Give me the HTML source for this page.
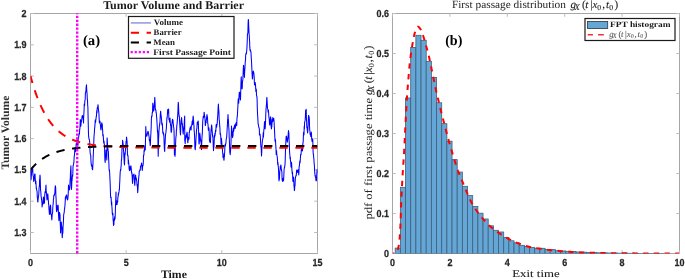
<!DOCTYPE html>
<html><head><meta charset="utf-8"><style>html,body{margin:0;padding:0;background:#fff;width:685px;height:279px;overflow:hidden}svg{display:block;will-change:transform}</style></head>
<body><svg width="685" height="279" viewBox="0 0 685 279" text-rendering="geometricPrecision">
<rect width="685" height="279" fill="#fff"/>
<defs><clipPath id="cl"><rect x="30.5" y="13.5" width="287.0" height="240.0"/></clipPath><clipPath id="cr"><rect x="392.5" y="13.5" width="287.0" height="240.0"/></clipPath></defs>
<rect x="30.5" y="13.5" width="287.0" height="240.0" fill="none" stroke="#a6a6a6" stroke-width="1"/>
<path d="M30.50,253.5 v-3.3 M30.50,13.5 v3.3 M126.17,253.5 v-3.3 M126.17,13.5 v3.3 M221.83,253.5 v-3.3 M221.83,13.5 v3.3 M317.50,253.5 v-3.3 M317.50,13.5 v3.3 M30.5,232.50 h3.3 M317.5,232.50 h-3.3 M30.5,201.21 h3.3 M317.5,201.21 h-3.3 M30.5,169.93 h3.3 M317.5,169.93 h-3.3 M30.5,138.64 h3.3 M317.5,138.64 h-3.3 M30.5,107.36 h3.3 M317.5,107.36 h-3.3 M30.5,76.07 h3.3 M317.5,76.07 h-3.3 M30.5,44.79 h3.3 M317.5,44.79 h-3.3 M30.5,13.50 h3.3 M317.5,13.50 h-3.3" stroke="#bcbcbc" stroke-width="1" fill="none"/>
<g clip-path="url(#cl)">
<path d="M30.50,170.00 L30.75,174.64 L31.00,180.00 L31.19,178.41 L31.38,175.35 L31.56,173.33 L31.75,170.02 L31.94,169.24 L32.12,171.53 L32.31,169.42 L32.50,167.00 L32.70,170.38 L32.90,173.44 L33.10,175.90 L33.30,175.87 L33.50,178.00 L33.69,181.46 L33.88,180.03 L34.06,180.72 L34.25,177.95 L34.44,176.65 L34.62,174.02 L34.81,175.25 L35.00,174.00 L35.19,177.68 L35.38,181.10 L35.56,183.68 L35.75,180.67 L35.94,182.42 L36.12,185.33 L36.31,188.64 L36.50,188.00 L36.70,189.92 L36.90,190.64 L37.10,191.77 L37.30,197.38 L37.50,198.51 L37.70,201.50 L37.92,202.05 L38.13,199.08 L38.35,197.24 L38.57,195.93 L38.78,194.51 L39.00,190.00 L39.20,186.77 L39.40,186.61 L39.60,179.48 L39.80,178.13 L40.00,175.00 L40.20,176.98 L40.40,185.30 L40.60,190.66 L40.80,191.30 L41.00,195.00 L41.18,197.14 L41.37,197.44 L41.55,199.84 L41.73,200.43 L41.92,202.79 L42.10,207.00 L42.30,204.90 L42.50,204.91 L42.70,203.32 L42.90,203.15 L43.10,199.82 L43.30,197.95 L43.50,197.00 L43.70,200.08 L43.90,203.76 L44.10,201.50 L44.30,200.52 L44.50,203.00 L44.69,196.43 L44.88,193.54 L45.06,191.52 L45.25,192.75 L45.44,192.62 L45.62,190.05 L45.81,187.38 L46.00,185.00 L46.20,191.17 L46.40,192.65 L46.60,194.43 L46.80,197.78 L47.00,200.00 L47.20,199.01 L47.40,195.83 L47.60,195.29 L47.80,193.71 L48.00,196.00 L48.20,199.31 L48.40,200.99 L48.60,204.34 L48.80,205.26 L49.00,209.53 L49.20,211.26 L49.40,214.40 L49.58,212.08 L49.77,213.70 L49.95,210.43 L50.13,206.33 L50.32,206.38 L50.50,205.00 L50.72,207.23 L50.93,214.46 L51.15,214.30 L51.37,214.65 L51.58,216.98 L51.80,220.00 L52.00,217.19 L52.20,214.30 L52.40,213.60 L52.60,212.45 L52.80,207.58 L53.00,205.00 L53.20,203.60 L53.40,199.58 L53.60,198.72 L53.80,195.18 L54.00,196.02 L54.20,195.00 L54.42,195.15 L54.63,193.67 L54.85,193.33 L55.07,188.47 L55.28,185.69 L55.50,186.50 L55.70,187.79 L55.90,196.22 L56.10,198.42 L56.30,206.63 L56.50,211.00 L56.69,211.65 L56.88,210.75 L57.06,205.84 L57.25,207.62 L57.44,209.86 L57.62,208.48 L57.81,206.60 L58.00,205.00 L58.23,206.89 L58.45,213.76 L58.67,216.69 L58.90,220.80 L59.08,218.18 L59.27,215.96 L59.45,212.18 L59.63,214.48 L59.82,213.40 L60.00,215.00 L60.20,221.80 L60.40,226.91 L60.60,232.90 L60.83,228.66 L61.07,225.79 L61.30,222.00 L61.50,225.14 L61.70,225.69 L61.90,227.62 L62.10,235.45 L62.30,237.70 L62.48,233.10 L62.66,231.83 L62.84,233.14 L63.02,227.57 L63.20,225.00 L63.43,221.14 L63.67,214.58 L63.90,214.00 L64.08,212.82 L64.27,211.86 L64.45,208.93 L64.63,208.89 L64.82,206.47 L65.00,205.00 L65.22,201.17 L65.43,197.08 L65.65,199.11 L65.87,196.72 L66.08,196.25 L66.30,195.00 L66.50,195.07 L66.70,194.99 L66.90,197.63 L67.10,198.04 L67.30,198.81 L67.50,200.00 L67.70,199.68 L67.90,198.17 L68.10,195.95 L68.30,191.46 L68.50,185.00 L68.70,186.79 L68.90,188.62 L69.10,187.80 L69.30,188.61 L69.50,190.00 L69.70,187.52 L69.90,185.26 L70.10,179.69 L70.30,178.86 L70.50,171.39 L70.70,168.99 L70.90,165.70 L71.10,175.34 L71.30,187.40 L71.50,189.52 L71.70,185.33 L71.90,179.83 L72.10,180.35 L72.30,176.47 L72.50,175.00 L72.69,176.24 L72.88,171.53 L73.06,165.69 L73.25,165.54 L73.44,164.88 L73.62,163.52 L73.81,162.84 L74.00,160.00 L74.20,156.19 L74.40,155.61 L74.60,153.09 L74.80,148.97 L75.00,150.00 L75.20,150.36 L75.40,151.84 L75.60,149.97 L75.80,148.89 L76.00,147.00 L76.20,143.85 L76.40,143.29 L76.60,140.38 L76.80,140.21 L77.00,140.00 L77.20,145.18 L77.40,142.16 L77.60,144.61 L77.80,144.71 L78.00,145.00 L78.19,140.12 L78.38,137.61 L78.56,137.99 L78.75,136.39 L78.94,135.18 L79.12,133.09 L79.31,134.45 L79.50,133.00 L79.69,129.25 L79.88,129.12 L80.06,125.92 L80.25,119.65 L80.44,119.91 L80.62,124.64 L80.81,126.28 L81.00,125.00 L81.20,121.03 L81.40,122.04 L81.60,120.71 L81.80,119.11 L82.00,117.28 L82.20,115.66 L82.40,115.88 L82.60,115.50 L82.78,117.47 L82.96,116.43 L83.14,119.11 L83.32,118.92 L83.50,123.00 L83.69,116.85 L83.88,113.42 L84.06,110.30 L84.25,104.02 L84.44,105.06 L84.62,105.46 L84.81,101.25 L85.00,100.00 L85.19,100.05 L85.38,92.93 L85.56,92.68 L85.75,91.67 L85.94,91.02 L86.12,87.58 L86.31,86.08 L86.50,84.80 L86.70,89.50 L86.90,92.14 L87.10,93.97 L87.30,99.49 L87.50,100.00 L87.70,105.37 L87.90,107.31 L88.10,117.38 L88.30,126.00 L88.50,134.50 L88.70,136.95 L88.90,138.05 L89.10,139.41 L89.30,139.65 L89.50,140.00 L89.70,142.42 L89.90,148.33 L90.10,151.96 L90.30,154.10 L90.50,155.00 L90.72,155.11 L90.93,160.59 L91.15,163.43 L91.37,165.23 L91.58,166.03 L91.80,165.00 L92.00,165.90 L92.20,169.06 L92.40,169.18 L92.60,169.70 L92.78,166.57 L92.96,164.24 L93.14,157.81 L93.32,154.65 L93.50,150.00 L93.67,146.92 L93.85,139.87 L94.03,136.05 L94.20,134.50 L94.40,131.79 L94.60,128.38 L94.80,126.88 L95.00,124.91 L95.20,120.56 L95.40,119.71 L95.60,122.58 L95.80,120.00 L96.00,119.15 L96.20,116.27 L96.40,116.67 L96.60,113.32 L96.80,110.29 L97.00,113.00 L97.20,107.96 L97.40,107.68 L97.60,108.47 L97.80,106.23 L98.00,104.68 L98.20,106.50 L98.40,109.41 L98.60,111.38 L98.80,111.51 L99.00,115.00 L99.20,119.67 L99.40,123.08 L99.60,121.94 L99.80,121.00 L100.00,121.37 L100.20,123.66 L100.40,124.74 L100.60,126.84 L100.80,129.14 L101.00,130.00 L101.22,127.72 L101.43,126.03 L101.65,123.64 L101.87,122.66 L102.08,124.97 L102.30,124.20 L102.47,129.20 L102.65,130.01 L102.83,135.81 L103.00,136.00 L103.20,134.44 L103.40,138.31 L103.60,141.82 L103.80,143.28 L104.00,141.00 L104.20,143.16 L104.40,144.59 L104.60,149.17 L104.80,157.64 L105.00,161.22 L105.20,162.40 L105.40,158.02 L105.60,156.32 L105.80,154.33 L106.00,150.00 L106.20,152.10 L106.40,151.15 L106.60,155.63 L106.80,160.00 L107.10,137.90 L107.28,139.58 L107.46,143.62 L107.64,146.12 L107.82,148.00 L108.00,150.00 L108.17,150.66 L108.35,150.98 L108.53,156.67 L108.70,160.00 L108.92,164.15 L109.13,170.18 L109.35,169.64 L109.57,171.39 L109.78,175.43 L110.00,180.00 L110.25,185.81 L110.50,195.00 L110.70,197.82 L110.90,197.23 L111.10,197.32 L111.30,201.57 L111.50,205.00 L111.70,201.82 L111.90,206.44 L112.10,209.26 L112.30,213.87 L112.50,214.33 L112.70,215.00 L112.90,213.21 L113.10,220.22 L113.30,220.71 L113.50,225.44 L113.70,224.80 L113.89,224.63 L114.08,220.06 L114.26,218.58 L114.45,220.38 L114.64,216.81 L114.83,218.82 L115.01,219.07 L115.20,216.00 L115.40,209.72 L115.60,203.55 L115.80,198.36 L116.00,192.00 L116.10,204.70 L116.30,204.76 L116.50,203.08 L116.70,200.78 L116.90,201.45 L117.10,204.36 L117.30,201.47 L117.50,202.27 L117.70,201.50 L117.90,197.02 L118.10,196.93 L118.30,193.54 L118.50,195.00 L118.68,192.51 L118.86,192.81 L119.04,191.64 L119.22,189.21 L119.40,190.00 L119.60,184.64 L119.80,181.10 L120.00,176.00 L120.20,172.05 L120.40,170.47 L120.60,169.25 L120.80,170.21 L121.00,166.69 L121.20,165.25 L121.40,159.78 L121.60,160.00 L121.80,155.08 L122.00,148.42 L122.20,145.95 L122.40,146.28 L122.60,140.30 L122.78,141.26 L122.96,143.04 L123.14,143.89 L123.32,148.37 L123.50,150.00 L123.70,151.96 L123.90,157.04 L124.10,158.92 L124.30,163.64 L124.50,165.00 L124.70,159.70 L124.90,152.90 L125.10,154.97 L125.30,151.81 L125.50,150.00 L125.70,146.82 L125.90,144.10 L126.10,141.12 L126.30,142.60 L126.50,137.00 L126.70,137.98 L126.90,140.28 L127.10,141.80 L127.30,148.31 L127.50,155.00 L127.70,155.68 L127.90,155.33 L128.10,157.46 L128.30,163.78 L128.50,160.00 L128.70,163.83 L128.90,163.82 L129.10,168.88 L129.30,168.86 L129.50,170.75 L129.70,169.70 L129.90,166.43 L130.10,168.84 L130.30,169.89 L130.50,168.00 L130.69,168.10 L130.88,165.75 L131.07,167.00 L131.26,169.12 L131.45,171.11 L131.64,173.08 L131.83,172.58 L132.02,174.61 L132.21,176.71 L132.40,182.00 L132.60,183.38 L132.80,179.94 L133.00,175.00 L133.20,175.85 L133.40,175.40 L133.60,174.63 L133.80,175.50 L134.00,174.00 L134.20,177.99 L134.40,180.27 L134.60,183.41 L134.80,185.50 L135.03,181.78 L135.27,177.54 L135.50,175.00 L135.70,175.46 L135.90,177.79 L136.10,179.56 L136.30,178.06 L136.50,180.00 L136.70,180.53 L136.90,182.80 L137.10,185.84 L137.30,184.62 L137.50,188.59 L137.70,192.70 L137.90,190.31 L138.10,187.27 L138.30,184.36 L138.50,180.00 L138.68,178.37 L138.86,176.06 L139.04,175.29 L139.22,171.42 L139.40,171.00 L139.62,171.09 L139.84,170.49 L140.06,169.18 L140.28,170.25 L140.50,166.00 L140.70,166.16 L140.90,165.80 L141.10,165.54 L141.30,165.51 L141.50,163.00 L141.70,163.62 L141.90,166.39 L142.10,168.66 L142.30,170.39 L142.50,168.00 L142.70,166.16 L142.90,165.83 L143.10,165.12 L143.30,162.54 L143.50,155.67 L143.70,154.80 L143.90,155.29 L144.10,150.06 L144.30,151.82 L144.50,149.08 L144.70,146.82 L144.90,146.14 L145.10,150.04 L145.30,150.00 L145.55,136.53 L145.80,126.60 L146.02,132.64 L146.24,134.62 L146.46,136.25 L146.68,135.45 L146.90,136.00 L147.10,135.09 L147.30,134.11 L147.50,132.44 L147.70,132.90 L147.95,131.34 L148.20,131.50 L148.40,132.71 L148.60,133.57 L148.80,135.59 L149.00,136.00 L149.20,137.72 L149.40,141.04 L149.60,141.10 L149.80,139.62 L150.00,143.47 L150.20,145.80 L150.40,144.27 L150.60,137.93 L150.80,134.79 L151.00,131.09 L151.20,126.75 L151.40,119.07 L151.60,116.00 L151.79,116.80 L151.97,116.36 L152.16,113.56 L152.34,112.17 L152.53,112.63 L152.71,104.65 L152.90,103.00 L153.15,106.33 L153.40,110.00 L153.60,111.03 L153.80,110.70 L154.00,108.39 L154.20,106.06 L154.40,104.90 L154.60,100.55 L154.80,97.40 L155.03,101.61 L155.27,108.35 L155.50,110.00 L155.70,109.68 L155.90,109.95 L156.10,112.96 L156.30,112.68 L156.50,116.00 L156.70,117.49 L156.90,120.86 L157.10,124.20 L157.30,127.93 L157.50,132.28 L157.70,130.50 L157.95,141.90 L158.20,156.30 L158.40,148.53 L158.60,138.69 L158.80,135.00 L159.00,130.00 L159.19,128.92 L159.38,125.51 L159.56,125.72 L159.75,122.88 L159.94,123.24 L160.12,118.79 L160.31,114.47 L160.50,112.70 L160.65,111.15 L160.80,112.90 L161.00,115.80 L161.20,115.87 L161.40,118.32 L161.60,119.76 L161.80,124.24 L162.00,125.00 L162.21,123.02 L162.43,125.01 L162.64,129.46 L162.85,133.33 L163.06,132.56 L163.27,132.16 L163.49,134.92 L163.70,133.70 L163.90,136.30 L164.10,141.53 L164.30,147.55 L164.50,150.51 L164.70,151.50 L164.90,144.93 L165.10,143.40 L165.30,138.46 L165.50,135.00 L165.70,133.47 L165.90,132.91 L166.10,130.07 L166.30,129.22 L166.50,125.05 L166.70,122.14 L166.90,117.64 L167.10,118.31 L167.30,116.20 L167.50,112.39 L167.70,109.50 L167.89,110.14 L168.07,112.99 L168.26,110.34 L168.44,109.02 L168.63,109.28 L168.81,116.53 L169.00,120.00 L169.20,118.34 L169.40,118.67 L169.60,122.22 L169.80,120.27 L170.00,118.00 L170.20,121.59 L170.40,123.45 L170.60,125.74 L170.80,125.20 L171.00,130.50 L171.20,132.44 L171.40,131.64 L171.60,131.12 L171.80,124.10 L172.00,123.47 L172.20,120.84 L172.40,119.72 L172.60,119.20 L172.80,121.19 L173.00,119.93 L173.20,123.62 L173.40,124.65 L173.60,126.66 L173.80,128.01 L174.00,130.00 L174.20,138.12 L174.40,154.70 L174.60,153.18 L174.80,153.71 L175.00,156.34 L175.20,154.26 L175.40,147.80 L175.60,143.53 L175.80,138.50 L176.00,136.36 L176.20,135.62 L176.40,129.89 L176.60,129.78 L176.80,125.22 L177.00,125.00 L177.19,122.65 L177.38,119.82 L177.56,117.56 L177.75,114.18 L177.94,110.63 L178.12,104.51 L178.31,102.35 L178.50,104.70 L178.70,110.22 L178.90,114.16 L179.10,116.62 L179.30,115.77 L179.50,120.00 L179.70,123.23 L179.90,126.43 L180.10,129.09 L180.30,132.68 L180.50,135.00 L180.70,131.00 L180.90,124.59 L181.10,119.90 L181.30,121.57 L181.50,117.60 L181.69,118.53 L181.88,121.31 L182.06,124.51 L182.25,123.34 L182.44,124.35 L182.62,128.05 L182.81,130.20 L183.00,132.00 L183.21,134.10 L183.43,130.84 L183.64,129.40 L183.85,126.52 L184.06,128.46 L184.27,122.15 L184.49,118.90 L184.70,116.00 L184.80,141.00 L185.00,141.37 L185.20,143.63 L185.40,138.76 L185.60,139.48 L185.80,137.69 L186.00,135.00 L186.19,137.83 L186.38,137.16 L186.56,133.71 L186.75,134.36 L186.94,132.31 L187.12,132.28 L187.31,134.71 L187.50,137.00 L187.69,142.03 L187.88,142.78 L188.06,140.32 L188.25,139.73 L188.44,138.75 L188.62,137.05 L188.81,139.32 L189.00,139.00 L189.19,132.59 L189.38,132.59 L189.56,130.66 L189.75,129.84 L189.94,128.43 L190.12,128.28 L190.31,126.70 L190.50,128.00 L190.71,128.70 L190.92,129.32 L191.12,129.99 L191.33,126.17 L191.54,125.45 L191.75,124.51 L191.95,124.69 L192.16,121.11 L192.37,124.71 L192.58,124.64 L192.78,121.42 L192.99,116.99 L193.20,116.00 L193.39,119.04 L193.57,120.56 L193.76,124.04 L193.94,125.75 L194.13,130.33 L194.31,131.84 L194.50,135.00 L194.70,139.80 L194.90,148.43 L195.10,148.46 L195.30,149.80 L195.50,145.56 L195.70,145.22 L195.90,140.25 L196.10,136.86 L196.30,134.57 L196.50,130.00 L196.69,128.75 L196.88,128.66 L197.07,124.67 L197.26,122.24 L197.45,122.30 L197.64,123.71 L197.83,124.31 L198.02,121.10 L198.21,121.04 L198.40,124.00 L198.60,132.33 L198.80,139.13 L199.00,144.00 L199.20,143.94 L199.40,140.98 L199.60,136.60 L199.80,133.10 L200.00,135.00 L200.19,136.08 L200.38,139.41 L200.56,138.81 L200.75,141.61 L200.94,140.72 L201.12,140.89 L201.31,147.41 L201.50,149.80 L201.70,144.02 L201.90,139.23 L202.10,135.43 L202.30,133.76 L202.50,128.00 L202.70,122.03 L202.90,119.58 L203.10,117.83 L203.30,116.31 L203.50,117.68 L203.70,116.65 L203.90,116.82 L204.10,112.39 L204.30,112.69 L204.50,115.93 L204.70,116.00 L204.90,118.05 L205.10,119.86 L205.30,125.59 L205.50,124.80 L205.70,122.94 L205.90,122.45 L206.10,122.64 L206.30,120.00 L206.53,118.78 L206.77,116.16 L207.00,114.50 L207.19,116.73 L207.38,116.54 L207.56,119.03 L207.75,123.68 L207.94,123.91 L208.12,125.88 L208.31,130.02 L208.50,130.00 L208.70,130.42 L208.90,127.85 L209.10,130.55 L209.30,136.08 L209.50,140.91 L209.70,140.36 L209.90,142.11 L210.10,142.38 L210.30,142.60 L210.50,142.25 L210.70,135.02 L210.90,133.48 L211.10,129.30 L211.30,128.62 L211.50,125.00 L211.70,124.97 L211.90,127.22 L212.10,130.57 L212.30,132.24 L212.50,135.00 L212.70,137.30 L212.90,135.74 L213.10,141.45 L213.30,146.69 L213.50,150.60 L213.70,147.76 L213.90,147.25 L214.10,143.15 L214.30,138.45 L214.50,135.00 L214.70,137.21 L214.90,133.24 L215.10,135.46 L215.30,133.28 L215.50,130.00 L215.69,131.92 L215.88,130.58 L216.06,126.35 L216.25,124.38 L216.44,125.51 L216.62,127.26 L216.81,125.13 L217.00,125.00 L217.20,123.91 L217.40,119.56 L217.60,117.60 L217.80,114.72 L218.00,110.63 L218.20,106.64 L218.40,104.00 L218.60,107.98 L218.80,110.53 L219.00,113.42 L219.20,120.00 L219.39,120.89 L219.57,123.40 L219.76,126.66 L219.94,128.45 L220.13,134.28 L220.31,132.68 L220.50,135.00 L220.69,134.73 L220.88,139.69 L221.06,144.27 L221.25,140.07 L221.44,138.25 L221.62,140.34 L221.81,142.73 L222.00,145.00 L222.20,146.35 L222.40,148.95 L222.60,152.04 L222.80,153.37 L223.00,157.35 L223.20,153.44 L223.40,156.48 L223.60,155.52 L223.80,159.33 L224.00,160.30 L224.19,157.10 L224.38,156.94 L224.56,153.69 L224.75,150.43 L224.94,145.61 L225.12,144.48 L225.31,144.61 L225.50,146.00 L225.69,143.35 L225.88,143.55 L226.06,141.28 L226.25,138.74 L226.44,137.80 L226.62,138.03 L226.81,134.90 L227.00,132.00 L227.20,128.28 L227.40,125.15 L227.60,119.66 L227.80,118.79 L228.00,114.50 L228.20,118.73 L228.40,119.86 L228.60,123.84 L228.80,127.89 L229.00,130.00 L229.20,137.33 L229.40,140.71 L229.60,147.46 L229.80,152.24 L230.00,153.13 L230.20,154.70 L230.39,153.02 L230.57,150.43 L230.76,147.82 L230.94,144.40 L231.13,137.33 L231.31,134.05 L231.50,126.00 L231.69,129.72 L231.88,130.81 L232.06,131.92 L232.25,134.22 L232.44,137.71 L232.62,137.10 L232.81,135.73 L233.00,136.00 L233.19,130.81 L233.38,128.21 L233.56,131.74 L233.75,128.92 L233.94,130.20 L234.12,126.62 L234.31,127.05 L234.50,126.00 L234.70,124.86 L234.90,125.22 L235.10,128.44 L235.30,127.91 L235.50,127.21 L235.70,123.87 L235.90,124.27 L236.10,122.68 L236.30,123.68 L236.50,122.58 L236.70,125.76 L236.90,120.00 L237.10,116.98 L237.30,116.79 L237.50,113.64 L237.70,109.43 L237.90,106.49 L238.10,100.87 L238.30,98.85 L238.50,102.40 L238.70,103.32 L238.90,98.83 L239.10,94.91 L239.30,92.12 L239.50,92.70 L239.65,92.54 L239.80,92.70 L240.03,96.16 L240.27,99.56 L240.50,100.00 L240.70,93.01 L240.90,84.98 L241.10,79.00 L241.28,76.85 L241.45,81.85 L241.62,83.54 L241.80,87.90 L242.01,88.93 L242.23,88.28 L242.44,82.06 L242.65,80.69 L242.86,80.01 L243.07,74.77 L243.29,69.02 L243.50,65.30 L243.68,65.75 L243.86,73.58 L244.04,72.11 L244.22,73.75 L244.40,77.40 L244.62,72.83 L244.84,69.21 L245.06,65.83 L245.28,61.30 L245.50,60.00 L245.69,54.83 L245.87,54.79 L246.06,53.03 L246.24,53.31 L246.43,53.80 L246.61,51.58 L246.80,50.00 L247.01,46.30 L247.23,41.54 L247.44,34.31 L247.65,33.61 L247.86,33.56 L248.07,24.45 L248.29,19.58 L248.50,20.00 L248.69,25.68 L248.88,30.01 L249.06,33.31 L249.25,35.81 L249.44,39.09 L249.62,41.57 L249.81,47.16 L250.00,50.00 L250.20,50.81 L250.40,49.79 L250.60,51.54 L250.80,51.27 L251.00,52.70 L251.20,57.07 L251.40,59.82 L251.60,62.90 L251.80,67.79 L252.00,71.97 L252.20,75.70 L252.40,79.00 L252.60,78.19 L252.80,72.96 L253.00,73.55 L253.20,71.00 L253.40,71.26 L253.60,72.13 L253.80,72.56 L254.00,75.00 L254.20,76.89 L254.40,83.24 L254.60,84.98 L254.80,83.14 L255.00,85.00 L255.25,82.49 L255.50,84.70 L255.70,88.64 L255.90,91.59 L256.10,89.77 L256.30,89.34 L256.50,95.00 L256.70,96.06 L256.90,96.37 L257.10,99.20 L257.30,107.90 L257.50,113.48 L257.70,116.29 L257.90,119.62 L258.10,123.57 L258.30,124.57 L258.50,124.50 L258.70,127.10 L258.90,127.30 L259.10,127.82 L259.30,128.72 L259.50,135.00 L259.70,133.79 L259.90,134.33 L260.10,134.77 L260.30,136.65 L260.50,140.00 L260.70,143.63 L260.90,146.46 L261.10,147.33 L261.30,149.91 L261.50,156.00 L261.70,153.30 L261.90,148.05 L262.10,144.34 L262.30,141.60 L262.50,140.00 L262.70,139.01 L262.90,138.85 L263.10,134.92 L263.30,132.60 L263.50,136.91 L263.70,132.10 L263.90,129.44 L264.10,128.13 L264.30,125.38 L264.50,121.60 L264.70,124.02 L264.90,126.57 L265.10,128.94 L265.30,127.00 L265.50,122.75 L265.70,116.81 L265.90,111.60 L266.10,108.25 L266.30,105.90 L266.50,104.16 L266.70,99.07 L266.90,97.40 L267.10,101.00 L267.30,104.52 L267.50,108.64 L267.70,109.07 L267.90,109.44 L268.10,112.21 L268.30,109.71 L268.50,111.00 L268.70,114.03 L268.90,117.45 L269.10,117.58 L269.30,119.74 L269.50,124.00 L269.68,124.46 L269.87,125.16 L270.05,123.30 L270.23,121.17 L270.42,117.51 L270.60,116.80 L270.80,118.02 L271.00,121.28 L271.20,127.30 L271.40,129.04 L271.60,127.25 L271.80,127.00 L272.00,122.85 L272.20,119.33 L272.40,121.82 L272.60,121.71 L272.80,117.41 L273.00,118.34 L273.20,120.71 L273.40,119.20 L273.58,118.46 L273.77,118.52 L273.95,120.08 L274.13,122.50 L274.32,126.21 L274.50,130.00 L274.70,134.10 L274.90,138.63 L275.10,141.47 L275.30,139.06 L275.50,140.00 L275.73,144.88 L275.97,148.09 L276.20,154.40 L276.39,153.30 L276.57,150.83 L276.76,154.06 L276.94,155.42 L277.13,155.71 L277.31,157.69 L277.50,160.00 L277.69,164.44 L277.88,162.17 L278.06,164.17 L278.25,166.70 L278.44,167.96 L278.62,172.06 L278.81,178.54 L279.00,181.00 L279.19,176.41 L279.38,179.42 L279.56,176.47 L279.75,171.65 L279.94,170.36 L280.12,169.52 L280.31,165.97 L280.50,166.00 L280.70,165.98 L280.90,164.92 L281.10,166.50 L281.30,169.51 L281.50,169.14 L281.70,171.09 L281.90,172.02 L282.10,179.95 L282.30,179.40 L282.50,181.35 L282.70,179.86 L282.90,178.19 L283.10,178.55 L283.30,179.33 L283.50,181.00 L283.69,178.84 L283.88,174.45 L284.06,170.22 L284.25,168.49 L284.44,166.94 L284.62,167.35 L284.81,165.40 L285.00,165.00 L285.25,159.12 L285.50,150.00 L285.70,145.26 L285.90,141.25 L286.10,136.63 L286.30,139.27 L286.50,136.06 L286.70,137.84 L286.90,138.07 L287.10,141.02 L287.30,142.25 L287.50,140.83 L287.70,139.17 L287.90,138.20 L288.10,136.36 L288.30,132.83 L288.50,130.50 L288.70,132.10 L288.90,133.79 L289.10,140.18 L289.30,143.78 L289.50,150.00 L289.70,153.80 L289.90,155.44 L290.10,159.07 L290.30,157.04 L290.50,161.48 L290.70,161.81 L290.90,165.08 L291.10,167.30 L291.30,162.61 L291.50,162.31 L291.70,164.35 L291.90,169.59 L292.10,171.80 L292.30,173.93 L292.50,172.05 L292.70,177.00 L292.91,181.37 L293.12,181.47 L293.34,180.97 L293.55,177.12 L293.76,179.27 L293.97,185.78 L294.19,187.54 L294.40,190.60 L294.60,189.68 L294.80,185.10 L295.00,186.08 L295.20,180.90 L295.40,178.17 L295.60,176.62 L295.80,176.52 L296.00,175.30 L296.20,175.86 L296.40,173.67 L296.60,170.22 L296.80,170.00 L297.00,171.20 L297.20,170.96 L297.40,170.83 L297.60,172.55 L297.80,171.01 L298.00,170.68 L298.20,169.66 L298.40,173.00 L298.60,172.03 L298.80,174.91 L299.00,169.37 L299.20,165.79 L299.40,166.04 L299.60,163.57 L299.80,160.84 L300.00,163.00 L300.20,161.52 L300.40,158.08 L300.60,154.26 L300.80,154.40 L301.01,154.82 L301.23,151.22 L301.44,148.55 L301.65,149.53 L301.86,150.60 L302.07,148.75 L302.29,149.94 L302.50,151.00 L302.69,145.42 L302.88,143.38 L303.06,143.08 L303.25,140.40 L303.44,133.97 L303.62,132.00 L303.81,132.50 L304.00,135.00 L304.20,126.22 L304.40,128.96 L304.60,122.73 L304.80,121.51 L305.00,120.94 L305.20,119.78 L305.40,116.61 L305.60,110.30 L305.80,113.56 L306.00,113.60 L306.20,109.31 L306.40,117.85 L306.60,121.31 L306.80,127.43 L307.00,127.00 L307.20,128.83 L307.40,130.96 L307.60,133.00 L307.80,131.26 L308.00,126.69 L308.20,124.58 L308.40,117.60 L308.59,115.17 L308.77,117.04 L308.96,116.31 L309.14,117.56 L309.33,118.95 L309.51,125.24 L309.70,130.00 L309.90,130.71 L310.10,134.42 L310.30,133.37 L310.50,133.37 L310.70,136.37 L310.90,134.21 L311.10,134.35 L311.30,132.00 L311.50,133.94 L311.70,139.53 L311.90,139.38 L312.10,141.59 L312.30,141.10 L312.50,140.00 L312.70,138.78 L312.90,144.02 L313.10,151.44 L313.30,154.35 L313.50,154.38 L313.70,157.82 L313.90,158.76 L314.10,162.43 L314.30,164.88 L314.50,167.30 L314.70,171.99 L314.90,173.83 L315.10,176.09 L315.30,175.19 L315.50,177.36 L315.70,177.18 L315.90,180.07 L316.10,181.00 L316.30,180.16 L316.50,180.16 L316.70,175.67 L316.90,172.63 L317.10,169.28 L317.30,169.99 L317.50,173.00" fill="none" stroke="#0000ff" stroke-width="1.05" stroke-linejoin="round"/>
<path d="M30.50,76.07 L30.98,77.84 L31.46,79.57 L31.94,81.25 L32.42,82.90 L32.90,84.50 L33.37,86.06 L33.85,87.59 L34.33,89.07 L34.81,90.52 L35.29,91.94 L35.77,93.31 L36.25,94.66 L36.73,95.97 L37.21,97.25 L37.69,98.50 L38.17,99.71 L38.65,100.90 L39.12,102.06 L39.60,103.18 L40.08,104.29 L40.56,105.36 L41.04,106.41 L41.52,107.43 L42.00,108.42 L42.48,109.39 L42.96,110.34 L43.44,111.26 L43.92,112.16 L44.39,113.04 L44.87,113.90 L45.35,114.73 L45.83,115.55 L46.31,116.34 L46.79,117.12 L47.27,117.88 L47.75,118.61 L48.23,119.33 L48.71,120.03 L49.19,120.72 L49.67,121.38 L50.14,122.03 L50.62,122.67 L51.10,123.29 L51.58,123.89 L52.06,124.48 L52.54,125.05 L53.02,125.61 L53.50,126.16 L53.98,126.69 L54.46,127.21 L54.94,127.72 L55.41,128.21 L55.89,128.69 L56.37,129.16 L56.85,129.62 L57.33,130.07 L57.81,130.50 L58.29,130.93 L58.77,131.34 L59.25,131.75 L59.73,132.14 L60.21,132.52 L60.69,132.90 L61.16,133.26 L61.64,133.62 L62.12,133.97 L62.60,134.31 L63.08,134.64 L63.56,134.96 L64.04,135.28 L64.52,135.58 L65.00,135.88 L65.48,136.17 L65.96,136.46 L66.43,136.74 L66.91,137.01 L67.39,137.27 L67.87,137.53 L68.35,137.78 L68.83,138.02 L69.31,138.26 L69.79,138.50 L70.27,138.72 L70.75,138.95 L71.23,139.16 L71.71,139.37 L72.18,139.58 L72.66,139.78 L73.14,139.97 L73.62,140.16 L74.10,140.35 L74.58,140.53 L75.06,140.71 L75.54,140.88 L76.02,141.05 L76.50,141.21 L76.98,141.37 L77.45,141.53 L77.93,141.68 L78.41,141.83 L78.89,141.98 L79.37,142.12 L79.85,142.25 L80.33,142.39 L80.81,142.52 L81.29,142.65 L81.77,142.77 L82.25,142.89 L82.73,143.01 L83.20,143.13 L83.68,143.24 L84.16,143.35 L84.64,143.46 L85.12,143.56 L85.60,143.66 L86.08,143.76 L86.56,143.86 L87.04,143.95 L87.52,144.05 L88.00,144.14 L88.47,144.22 L88.95,144.31 L89.43,144.39 L89.91,144.47 L90.39,144.55 L90.87,144.63 L91.35,144.71 L91.83,144.78 L92.31,144.85 L92.79,144.92 L93.27,144.99 L93.75,145.06 L94.22,145.12 L94.70,145.19 L95.18,145.25 L95.66,145.31 L96.14,145.37 L96.62,145.42 L97.10,145.48 L97.58,145.53 L98.06,145.59 L98.54,145.64 L99.02,145.69 L99.49,145.74 L99.97,145.79 L100.45,145.83 L100.93,145.88 L101.41,145.92 L101.89,145.97 L102.37,146.01 L102.85,146.05 L103.33,146.09 L103.81,146.13 L104.29,146.17 L104.77,146.21 L105.24,146.24 L105.72,146.28 L106.20,146.31 L106.68,146.35 L107.16,146.38 L107.64,146.41 L108.12,146.45 L108.60,146.48 L109.08,146.51 L109.56,146.53 L110.04,146.56 L110.52,146.59 L110.99,146.62 L111.47,146.64 L111.95,146.67 L112.43,146.70 L112.91,146.72 L113.39,146.74 L113.87,146.77 L114.35,146.79 L114.83,146.81 L115.31,146.83 L115.79,146.85 L116.26,146.87 L116.74,146.89 L117.22,146.91 L117.70,146.93 L118.18,146.95 L118.66,146.97 L119.14,146.99 L119.62,147.00 L120.10,147.02 L120.58,147.04 L121.06,147.05 L121.54,147.07 L122.01,147.08 L122.49,147.10 L122.97,147.11 L123.45,147.13 L123.93,147.14 L124.41,147.16 L124.89,147.17 L125.37,147.18 L125.85,147.19 L126.33,147.21 L126.81,147.22 L127.28,147.23 L127.76,147.24 L128.24,147.25 L128.72,147.26 L129.20,147.27 L129.68,147.28 L130.16,147.29 L130.64,147.30 L131.12,147.31 L131.60,147.32 L132.08,147.33 L132.56,147.34 L133.03,147.35 L133.51,147.36 L133.99,147.36 L134.47,147.37 L134.95,147.38 L135.43,147.39 L135.91,147.39 L136.39,147.40 L136.87,147.41 L137.35,147.42 L137.83,147.42 L138.30,147.43 L138.78,147.43 L139.26,147.44 L139.74,147.45 L140.22,147.45 L140.70,147.46 L141.18,147.46 L141.66,147.47 L142.14,147.48 L142.62,147.48 L143.10,147.49 L143.58,147.49 L144.05,147.49 L144.53,147.50 L145.01,147.50 L145.49,147.51 L145.97,147.51 L146.45,147.52 L146.93,147.52 L147.41,147.53 L147.89,147.53 L148.37,147.53 L148.85,147.54 L149.32,147.54 L149.80,147.54 L150.28,147.55 L150.76,147.55 L151.24,147.55 L151.72,147.56 L152.20,147.56 L152.68,147.56 L153.16,147.57 L153.64,147.57 L154.12,147.57 L154.60,147.58 L155.07,147.58 L155.55,147.58 L156.03,147.58 L156.51,147.59 L156.99,147.59 L157.47,147.59 L157.95,147.59 L158.43,147.60 L158.91,147.60 L159.39,147.60 L159.87,147.60 L160.34,147.60 L160.82,147.61 L161.30,147.61 L161.78,147.61 L162.26,147.61 L162.74,147.61 L163.22,147.61 L163.70,147.62 L164.18,147.62 L164.66,147.62 L165.14,147.62 L165.62,147.62 L166.09,147.62 L166.57,147.63 L167.05,147.63 L167.53,147.63 L168.01,147.63 L168.49,147.63 L168.97,147.63 L169.45,147.63 L169.93,147.64 L170.41,147.64 L170.89,147.64 L171.36,147.64 L171.84,147.64 L172.32,147.64 L172.80,147.64 L173.28,147.64 L173.76,147.64 L174.24,147.65 L174.72,147.65 L175.20,147.65 L175.68,147.65 L176.16,147.65 L176.64,147.65 L177.11,147.65 L177.59,147.65 L178.07,147.65 L178.55,147.65 L179.03,147.65 L179.51,147.65 L179.99,147.66 L180.47,147.66 L180.95,147.66 L181.43,147.66 L181.91,147.66 L182.38,147.66 L182.86,147.66 L183.34,147.66 L183.82,147.66 L184.30,147.66 L184.78,147.66 L185.26,147.66 L185.74,147.66 L186.22,147.66 L186.70,147.66 L187.18,147.66 L187.66,147.67 L188.13,147.67 L188.61,147.67 L189.09,147.67 L189.57,147.67 L190.05,147.67 L190.53,147.67 L191.01,147.67 L191.49,147.67 L191.97,147.67 L192.45,147.67 L192.93,147.67 L193.40,147.67 L193.88,147.67 L194.36,147.67 L194.84,147.67 L195.32,147.67 L195.80,147.67 L196.28,147.67 L196.76,147.67 L197.24,147.67 L197.72,147.67 L198.20,147.67 L198.68,147.67 L199.15,147.67 L199.63,147.67 L200.11,147.67 L200.59,147.67 L201.07,147.67 L201.55,147.68 L202.03,147.68 L202.51,147.68 L202.99,147.68 L203.47,147.68 L203.95,147.68 L204.42,147.68 L204.90,147.68 L205.38,147.68 L205.86,147.68 L206.34,147.68 L206.82,147.68 L207.30,147.68 L207.78,147.68 L208.26,147.68 L208.74,147.68 L209.22,147.68 L209.70,147.68 L210.17,147.68 L210.65,147.68 L211.13,147.68 L211.61,147.68 L212.09,147.68 L212.57,147.68 L213.05,147.68 L213.53,147.68 L214.01,147.68 L214.49,147.68 L214.97,147.68 L215.44,147.68 L215.92,147.68 L216.40,147.68 L216.88,147.68 L217.36,147.68 L217.84,147.68 L218.32,147.68 L218.80,147.68 L219.28,147.68 L219.76,147.68 L220.24,147.68 L220.72,147.68 L221.19,147.68 L221.67,147.68 L222.15,147.68 L222.63,147.68 L223.11,147.68 L223.59,147.68 L224.07,147.68 L224.55,147.68 L225.03,147.68 L225.51,147.68 L225.99,147.68 L226.46,147.68 L226.94,147.68 L227.42,147.68 L227.90,147.68 L228.38,147.68 L228.86,147.68 L229.34,147.68 L229.82,147.68 L230.30,147.68 L230.78,147.68 L231.26,147.68 L231.74,147.68 L232.21,147.68 L232.69,147.68 L233.17,147.68 L233.65,147.68 L234.13,147.68 L234.61,147.68 L235.09,147.68 L235.57,147.68 L236.05,147.68 L236.53,147.68 L237.01,147.68 L237.48,147.68 L237.96,147.68 L238.44,147.68 L238.92,147.68 L239.40,147.68 L239.88,147.68 L240.36,147.68 L240.84,147.68 L241.32,147.68 L241.80,147.68 L242.28,147.68 L242.76,147.68 L243.23,147.68 L243.71,147.68 L244.19,147.68 L244.67,147.68 L245.15,147.68 L245.63,147.68 L246.11,147.68 L246.59,147.68 L247.07,147.68 L247.55,147.68 L248.03,147.68 L248.51,147.68 L248.98,147.68 L249.46,147.68 L249.94,147.68 L250.42,147.68 L250.90,147.68 L251.38,147.68 L251.86,147.68 L252.34,147.68 L252.82,147.68 L253.30,147.68 L253.78,147.68 L254.25,147.68 L254.73,147.68 L255.21,147.68 L255.69,147.68 L256.17,147.68 L256.65,147.68 L257.13,147.68 L257.61,147.68 L258.09,147.68 L258.57,147.68 L259.05,147.68 L259.53,147.68 L260.00,147.68 L260.48,147.68 L260.96,147.68 L261.44,147.68 L261.92,147.68 L262.40,147.68 L262.88,147.68 L263.36,147.68 L263.84,147.68 L264.32,147.68 L264.80,147.68 L265.27,147.68 L265.75,147.68 L266.23,147.68 L266.71,147.68 L267.19,147.68 L267.67,147.68 L268.15,147.68 L268.63,147.68 L269.11,147.68 L269.59,147.68 L270.07,147.68 L270.55,147.68 L271.02,147.68 L271.50,147.68 L271.98,147.68 L272.46,147.68 L272.94,147.68 L273.42,147.68 L273.90,147.68 L274.38,147.68 L274.86,147.68 L275.34,147.68 L275.82,147.68 L276.29,147.68 L276.77,147.68 L277.25,147.68 L277.73,147.68 L278.21,147.68 L278.69,147.68 L279.17,147.68 L279.65,147.68 L280.13,147.68 L280.61,147.68 L281.09,147.68 L281.57,147.68 L282.04,147.68 L282.52,147.68 L283.00,147.68 L283.48,147.68 L283.96,147.68 L284.44,147.68 L284.92,147.68 L285.40,147.68 L285.88,147.68 L286.36,147.68 L286.84,147.68 L287.31,147.68 L287.79,147.68 L288.27,147.68 L288.75,147.68 L289.23,147.68 L289.71,147.68 L290.19,147.68 L290.67,147.68 L291.15,147.68 L291.63,147.68 L292.11,147.68 L292.59,147.68 L293.06,147.68 L293.54,147.68 L294.02,147.68 L294.50,147.68 L294.98,147.68 L295.46,147.68 L295.94,147.68 L296.42,147.68 L296.90,147.68 L297.38,147.68 L297.86,147.68 L298.33,147.68 L298.81,147.68 L299.29,147.68 L299.77,147.68 L300.25,147.68 L300.73,147.68 L301.21,147.68 L301.69,147.68 L302.17,147.68 L302.65,147.68 L303.13,147.68 L303.61,147.68 L304.08,147.68 L304.56,147.68 L305.04,147.68 L305.52,147.68 L306.00,147.68 L306.48,147.68 L306.96,147.68 L307.44,147.68 L307.92,147.68 L308.40,147.68 L308.88,147.68 L309.35,147.68 L309.83,147.68 L310.31,147.68 L310.79,147.68 L311.27,147.68 L311.75,147.68 L312.23,147.68 L312.71,147.68 L313.19,147.68 L313.67,147.68 L314.15,147.68 L314.63,147.68 L315.10,147.68 L315.58,147.68 L316.06,147.68 L316.54,147.68 L317.02,147.68 L317.50,147.68" fill="none" stroke="#ff0000" stroke-width="2" stroke-dasharray="8.4 7.6" stroke-dashoffset="1.2"/>
<path d="M30.50,169.93 L30.98,169.33 L31.46,168.75 L31.94,168.19 L32.42,167.64 L32.90,167.10 L33.37,166.58 L33.85,166.07 L34.33,165.57 L34.81,165.08 L35.29,164.61 L35.77,164.14 L36.25,163.69 L36.73,163.25 L37.21,162.82 L37.69,162.40 L38.17,162.00 L38.65,161.60 L39.12,161.21 L39.60,160.83 L40.08,160.46 L40.56,160.10 L41.04,159.75 L41.52,159.41 L42.00,159.07 L42.48,158.75 L42.96,158.43 L43.44,158.12 L43.92,157.82 L44.39,157.52 L44.87,157.24 L45.35,156.96 L45.83,156.68 L46.31,156.42 L46.79,156.16 L47.27,155.90 L47.75,155.66 L48.23,155.41 L48.71,155.18 L49.19,154.95 L49.67,154.73 L50.14,154.51 L50.62,154.29 L51.10,154.09 L51.58,153.88 L52.06,153.69 L52.54,153.49 L53.02,153.31 L53.50,153.12 L53.98,152.94 L54.46,152.77 L54.94,152.60 L55.41,152.44 L55.89,152.27 L56.37,152.12 L56.85,151.96 L57.33,151.81 L57.81,151.67 L58.29,151.52 L58.77,151.38 L59.25,151.25 L59.73,151.12 L60.21,150.99 L60.69,150.86 L61.16,150.74 L61.64,150.62 L62.12,150.50 L62.60,150.39 L63.08,150.28 L63.56,150.17 L64.04,150.06 L64.52,149.96 L65.00,149.86 L65.48,149.76 L65.96,149.67 L66.43,149.57 L66.91,149.48 L67.39,149.39 L67.87,149.31 L68.35,149.22 L68.83,149.14 L69.31,149.06 L69.79,148.98 L70.27,148.91 L70.75,148.83 L71.23,148.76 L71.71,148.69 L72.18,148.62 L72.66,148.55 L73.14,148.49 L73.62,148.42 L74.10,148.36 L74.58,148.30 L75.06,148.24 L75.54,148.18 L76.02,148.13 L76.50,148.07 L76.98,148.02 L77.45,147.97 L77.93,147.92 L78.41,147.87 L78.89,147.82 L79.37,147.77 L79.85,147.72 L80.33,147.68 L80.81,147.63 L81.29,147.59 L81.77,147.55 L82.25,147.51 L82.73,147.47 L83.20,147.43 L83.68,147.39 L84.16,147.36 L84.64,147.32 L85.12,147.28 L85.60,147.25 L86.08,147.22 L86.56,147.18 L87.04,147.15 L87.52,147.12 L88.00,147.09 L88.47,147.06 L88.95,147.03 L89.43,147.01 L89.91,146.98 L90.39,146.95 L90.87,146.93 L91.35,146.90 L91.83,146.88 L92.31,146.85 L92.79,146.83 L93.27,146.80 L93.75,146.78 L94.22,146.76 L94.70,146.74 L95.18,146.72 L95.66,146.70 L96.14,146.68 L96.62,146.66 L97.10,146.64 L97.58,146.62 L98.06,146.60 L98.54,146.59 L99.02,146.57 L99.49,146.55 L99.97,146.54 L100.45,146.52 L100.93,146.51 L101.41,146.49 L101.89,146.48 L102.37,146.46 L102.85,146.45 L103.33,146.44 L103.81,146.42 L104.29,146.41 L104.77,146.40 L105.24,146.38 L105.72,146.37 L106.20,146.36 L106.68,146.35 L107.16,146.34 L107.64,146.33 L108.12,146.32 L108.60,146.31 L109.08,146.30 L109.56,146.29 L110.04,146.28 L110.52,146.27 L110.99,146.26 L111.47,146.25 L111.95,146.24 L112.43,146.23 L112.91,146.22 L113.39,146.22 L113.87,146.21 L114.35,146.20 L114.83,146.19 L115.31,146.19 L115.79,146.18 L116.26,146.17 L116.74,146.17 L117.22,146.16 L117.70,146.15 L118.18,146.15 L118.66,146.14 L119.14,146.13 L119.62,146.13 L120.10,146.12 L120.58,146.12 L121.06,146.11 L121.54,146.11 L122.01,146.10 L122.49,146.10 L122.97,146.09 L123.45,146.09 L123.93,146.08 L124.41,146.08 L124.89,146.07 L125.37,146.07 L125.85,146.07 L126.33,146.06 L126.81,146.06 L127.28,146.05 L127.76,146.05 L128.24,146.05 L128.72,146.04 L129.20,146.04 L129.68,146.04 L130.16,146.03 L130.64,146.03 L131.12,146.03 L131.60,146.02 L132.08,146.02 L132.56,146.02 L133.03,146.01 L133.51,146.01 L133.99,146.01 L134.47,146.01 L134.95,146.00 L135.43,146.00 L135.91,146.00 L136.39,146.00 L136.87,145.99 L137.35,145.99 L137.83,145.99 L138.30,145.99 L138.78,145.98 L139.26,145.98 L139.74,145.98 L140.22,145.98 L140.70,145.98 L141.18,145.98 L141.66,145.97 L142.14,145.97 L142.62,145.97 L143.10,145.97 L143.58,145.97 L144.05,145.96 L144.53,145.96 L145.01,145.96 L145.49,145.96 L145.97,145.96 L146.45,145.96 L146.93,145.96 L147.41,145.95 L147.89,145.95 L148.37,145.95 L148.85,145.95 L149.32,145.95 L149.80,145.95 L150.28,145.95 L150.76,145.95 L151.24,145.94 L151.72,145.94 L152.20,145.94 L152.68,145.94 L153.16,145.94 L153.64,145.94 L154.12,145.94 L154.60,145.94 L155.07,145.94 L155.55,145.94 L156.03,145.94 L156.51,145.93 L156.99,145.93 L157.47,145.93 L157.95,145.93 L158.43,145.93 L158.91,145.93 L159.39,145.93 L159.87,145.93 L160.34,145.93 L160.82,145.93 L161.30,145.93 L161.78,145.93 L162.26,145.93 L162.74,145.93 L163.22,145.92 L163.70,145.92 L164.18,145.92 L164.66,145.92 L165.14,145.92 L165.62,145.92 L166.09,145.92 L166.57,145.92 L167.05,145.92 L167.53,145.92 L168.01,145.92 L168.49,145.92 L168.97,145.92 L169.45,145.92 L169.93,145.92 L170.41,145.92 L170.89,145.92 L171.36,145.92 L171.84,145.92 L172.32,145.92 L172.80,145.92 L173.28,145.91 L173.76,145.91 L174.24,145.91 L174.72,145.91 L175.20,145.91 L175.68,145.91 L176.16,145.91 L176.64,145.91 L177.11,145.91 L177.59,145.91 L178.07,145.91 L178.55,145.91 L179.03,145.91 L179.51,145.91 L179.99,145.91 L180.47,145.91 L180.95,145.91 L181.43,145.91 L181.91,145.91 L182.38,145.91 L182.86,145.91 L183.34,145.91 L183.82,145.91 L184.30,145.91 L184.78,145.91 L185.26,145.91 L185.74,145.91 L186.22,145.91 L186.70,145.91 L187.18,145.91 L187.66,145.91 L188.13,145.91 L188.61,145.91 L189.09,145.91 L189.57,145.91 L190.05,145.91 L190.53,145.91 L191.01,145.91 L191.49,145.91 L191.97,145.91 L192.45,145.91 L192.93,145.91 L193.40,145.91 L193.88,145.91 L194.36,145.91 L194.84,145.91 L195.32,145.91 L195.80,145.91 L196.28,145.91 L196.76,145.91 L197.24,145.91 L197.72,145.90 L198.20,145.90 L198.68,145.90 L199.15,145.90 L199.63,145.90 L200.11,145.90 L200.59,145.90 L201.07,145.90 L201.55,145.90 L202.03,145.90 L202.51,145.90 L202.99,145.90 L203.47,145.90 L203.95,145.90 L204.42,145.90 L204.90,145.90 L205.38,145.90 L205.86,145.90 L206.34,145.90 L206.82,145.90 L207.30,145.90 L207.78,145.90 L208.26,145.90 L208.74,145.90 L209.22,145.90 L209.70,145.90 L210.17,145.90 L210.65,145.90 L211.13,145.90 L211.61,145.90 L212.09,145.90 L212.57,145.90 L213.05,145.90 L213.53,145.90 L214.01,145.90 L214.49,145.90 L214.97,145.90 L215.44,145.90 L215.92,145.90 L216.40,145.90 L216.88,145.90 L217.36,145.90 L217.84,145.90 L218.32,145.90 L218.80,145.90 L219.28,145.90 L219.76,145.90 L220.24,145.90 L220.72,145.90 L221.19,145.90 L221.67,145.90 L222.15,145.90 L222.63,145.90 L223.11,145.90 L223.59,145.90 L224.07,145.90 L224.55,145.90 L225.03,145.90 L225.51,145.90 L225.99,145.90 L226.46,145.90 L226.94,145.90 L227.42,145.90 L227.90,145.90 L228.38,145.90 L228.86,145.90 L229.34,145.90 L229.82,145.90 L230.30,145.90 L230.78,145.90 L231.26,145.90 L231.74,145.90 L232.21,145.90 L232.69,145.90 L233.17,145.90 L233.65,145.90 L234.13,145.90 L234.61,145.90 L235.09,145.90 L235.57,145.90 L236.05,145.90 L236.53,145.90 L237.01,145.90 L237.48,145.90 L237.96,145.90 L238.44,145.90 L238.92,145.90 L239.40,145.90 L239.88,145.90 L240.36,145.90 L240.84,145.90 L241.32,145.90 L241.80,145.90 L242.28,145.90 L242.76,145.90 L243.23,145.90 L243.71,145.90 L244.19,145.90 L244.67,145.90 L245.15,145.90 L245.63,145.90 L246.11,145.90 L246.59,145.90 L247.07,145.90 L247.55,145.90 L248.03,145.90 L248.51,145.90 L248.98,145.90 L249.46,145.90 L249.94,145.90 L250.42,145.90 L250.90,145.90 L251.38,145.90 L251.86,145.90 L252.34,145.90 L252.82,145.90 L253.30,145.90 L253.78,145.90 L254.25,145.90 L254.73,145.90 L255.21,145.90 L255.69,145.90 L256.17,145.90 L256.65,145.90 L257.13,145.90 L257.61,145.90 L258.09,145.90 L258.57,145.90 L259.05,145.90 L259.53,145.90 L260.00,145.90 L260.48,145.90 L260.96,145.90 L261.44,145.90 L261.92,145.90 L262.40,145.90 L262.88,145.90 L263.36,145.90 L263.84,145.90 L264.32,145.90 L264.80,145.90 L265.27,145.90 L265.75,145.90 L266.23,145.90 L266.71,145.90 L267.19,145.90 L267.67,145.90 L268.15,145.90 L268.63,145.90 L269.11,145.90 L269.59,145.90 L270.07,145.90 L270.55,145.90 L271.02,145.90 L271.50,145.90 L271.98,145.90 L272.46,145.90 L272.94,145.90 L273.42,145.90 L273.90,145.90 L274.38,145.90 L274.86,145.90 L275.34,145.90 L275.82,145.90 L276.29,145.90 L276.77,145.90 L277.25,145.90 L277.73,145.90 L278.21,145.90 L278.69,145.90 L279.17,145.90 L279.65,145.90 L280.13,145.90 L280.61,145.90 L281.09,145.90 L281.57,145.90 L282.04,145.90 L282.52,145.90 L283.00,145.90 L283.48,145.90 L283.96,145.90 L284.44,145.90 L284.92,145.90 L285.40,145.90 L285.88,145.90 L286.36,145.90 L286.84,145.90 L287.31,145.90 L287.79,145.90 L288.27,145.90 L288.75,145.90 L289.23,145.90 L289.71,145.90 L290.19,145.90 L290.67,145.90 L291.15,145.90 L291.63,145.90 L292.11,145.90 L292.59,145.90 L293.06,145.90 L293.54,145.90 L294.02,145.90 L294.50,145.90 L294.98,145.90 L295.46,145.90 L295.94,145.90 L296.42,145.90 L296.90,145.90 L297.38,145.90 L297.86,145.90 L298.33,145.90 L298.81,145.90 L299.29,145.90 L299.77,145.90 L300.25,145.90 L300.73,145.90 L301.21,145.90 L301.69,145.90 L302.17,145.90 L302.65,145.90 L303.13,145.90 L303.61,145.90 L304.08,145.90 L304.56,145.90 L305.04,145.90 L305.52,145.90 L306.00,145.90 L306.48,145.90 L306.96,145.90 L307.44,145.90 L307.92,145.90 L308.40,145.90 L308.88,145.90 L309.35,145.90 L309.83,145.90 L310.31,145.90 L310.79,145.90 L311.27,145.90 L311.75,145.90 L312.23,145.90 L312.71,145.90 L313.19,145.90 L313.67,145.90 L314.15,145.90 L314.63,145.90 L315.10,145.90 L315.58,145.90 L316.06,145.90 L316.54,145.90 L317.02,145.90 L317.50,145.90" fill="none" stroke="#000000" stroke-width="2" stroke-dasharray="8.4 7.6"/>
</g>
<clipPath id="cm"><rect x="70" y="13.3" width="20" height="240.8"/></clipPath>
<path d="M77.2,11.85 V255.5" stroke="#ff00ff" stroke-width="2.4" stroke-dasharray="2.3 1.622" clip-path="url(#cm)"/>
<text transform="translate(26.60,236.00) scale(0.88,1)" text-anchor="end" font-family="Liberation Sans" font-weight="bold" font-size="10.2" fill="#262626" stroke="#262626" stroke-width="0.25">1.3</text>
<text transform="translate(26.60,204.71) scale(0.88,1)" text-anchor="end" font-family="Liberation Sans" font-weight="bold" font-size="10.2" fill="#262626" stroke="#262626" stroke-width="0.25">1.4</text>
<text transform="translate(26.60,173.43) scale(0.88,1)" text-anchor="end" font-family="Liberation Sans" font-weight="bold" font-size="10.2" fill="#262626" stroke="#262626" stroke-width="0.25">1.5</text>
<text transform="translate(26.60,142.14) scale(0.88,1)" text-anchor="end" font-family="Liberation Sans" font-weight="bold" font-size="10.2" fill="#262626" stroke="#262626" stroke-width="0.25">1.6</text>
<text transform="translate(26.60,110.86) scale(0.88,1)" text-anchor="end" font-family="Liberation Sans" font-weight="bold" font-size="10.2" fill="#262626" stroke="#262626" stroke-width="0.25">1.7</text>
<text transform="translate(26.60,79.57) scale(0.88,1)" text-anchor="end" font-family="Liberation Sans" font-weight="bold" font-size="10.2" fill="#262626" stroke="#262626" stroke-width="0.25">1.8</text>
<text transform="translate(26.60,48.29) scale(0.88,1)" text-anchor="end" font-family="Liberation Sans" font-weight="bold" font-size="10.2" fill="#262626" stroke="#262626" stroke-width="0.25">1.9</text>
<text transform="translate(26.60,17.00) scale(0.88,1)" text-anchor="end" font-family="Liberation Sans" font-weight="bold" font-size="10.2" fill="#262626" stroke="#262626" stroke-width="0.25">2</text>
<text transform="translate(30.50,265.90) scale(0.88,1)" text-anchor="middle" font-family="Liberation Sans" font-weight="bold" font-size="10.2" fill="#262626" stroke="#262626" stroke-width="0.25">0</text>
<text transform="translate(126.17,265.90) scale(0.88,1)" text-anchor="middle" font-family="Liberation Sans" font-weight="bold" font-size="10.2" fill="#262626" stroke="#262626" stroke-width="0.25">5</text>
<text transform="translate(221.83,265.90) scale(0.88,1)" text-anchor="middle" font-family="Liberation Sans" font-weight="bold" font-size="10.2" fill="#262626" stroke="#262626" stroke-width="0.25">10</text>
<text transform="translate(317.50,265.90) scale(0.88,1)" text-anchor="middle" font-family="Liberation Sans" font-weight="bold" font-size="10.2" fill="#262626" stroke="#262626" stroke-width="0.25">15</text>
<text x="103.2" y="8.8" font-family="Liberation Serif" font-weight="bold" font-size="11.7" textLength="140.8" lengthAdjust="spacingAndGlyphs" fill="#1a1a1a">Tumor Volume and Barrier</text>
<text x="160.9" y="277.9" font-family="Liberation Serif" font-weight="bold" font-size="11.4" textLength="26" lengthAdjust="spacingAndGlyphs" fill="#1a1a1a">Time</text>
<text transform="translate(8.6,169.6) rotate(-90)" font-family="Liberation Serif" font-weight="bold" font-size="11.3" textLength="74" lengthAdjust="spacingAndGlyphs" fill="#303030">Tumor Volume</text>
<text x="82.9" y="45.3" font-family="Liberation Serif" font-weight="bold" font-size="14.5" textLength="17.2" lengthAdjust="spacingAndGlyphs" fill="#000">(a)</text>
<rect x="128.5" y="16.5" width="105.5" height="41.8" fill="#fff" stroke="#1a1a1a" stroke-width="1.2"/>
<path d="M130.8,22.9 H151" stroke="#9a9ae6" stroke-width="1.6"/>
<path d="M130.8,32.8 H139 M146.6,32.8 H151" stroke="#ff0000" stroke-width="2"/>
<path d="M130.8,42.6 H139 M146.6,42.6 H151" stroke="#000" stroke-width="2"/>
<path d="M130.6,52.2 H150" stroke="#ff00ff" stroke-width="2.2" stroke-dasharray="2.2 1.85"/>
<text x="153.8" y="25" font-family="Liberation Serif" font-weight="bold" font-size="8.6" fill="#1a1a1a" lengthAdjust="spacingAndGlyphs" textLength="29.1">Volume</text>
<text x="153.6" y="35" font-family="Liberation Serif" font-weight="bold" font-size="8.6" fill="#1a1a1a" lengthAdjust="spacingAndGlyphs" textLength="28">Barrier</text>
<text x="153.3" y="44.8" font-family="Liberation Serif" font-weight="bold" font-size="8.6" fill="#1a1a1a" lengthAdjust="spacingAndGlyphs" textLength="21.7">Mean</text>
<text x="153.3" y="54.5" font-family="Liberation Serif" font-weight="bold" font-size="8.6" fill="#1a1a1a" lengthAdjust="spacingAndGlyphs" textLength="77.7">First Passage Point</text>
<rect x="392.5" y="13.5" width="287.0" height="240.0" fill="none" stroke="#a6a6a6" stroke-width="1"/>
<path d="M392.50,253.5 v-3.3 M392.50,13.5 v3.3 M449.90,253.5 v-3.3 M449.90,13.5 v3.3 M507.30,253.5 v-3.3 M507.30,13.5 v3.3 M564.70,253.5 v-3.3 M564.70,13.5 v3.3 M622.10,253.5 v-3.3 M622.10,13.5 v3.3 M679.50,253.5 v-3.3 M679.50,13.5 v3.3 M392.5,253.50 h3.3 M679.5,253.50 h-3.3 M392.5,213.50 h3.3 M679.5,213.50 h-3.3 M392.5,173.50 h3.3 M679.5,173.50 h-3.3 M392.5,133.50 h3.3 M679.5,133.50 h-3.3 M392.5,93.50 h3.3 M679.5,93.50 h-3.3 M392.5,53.50 h3.3 M679.5,53.50 h-3.3 M392.5,13.50 h3.3 M679.5,13.50 h-3.3" stroke="#bcbcbc" stroke-width="1" fill="none"/>
<g clip-path="url(#cr)" fill="#64a7d6" stroke="#3d5f7a" stroke-width="0.8"><rect x="395.20" y="248.10" width="5.167" height="5.40"/><rect x="400.37" y="187.30" width="5.167" height="66.20"/><rect x="405.53" y="98.00" width="5.167" height="155.50"/><rect x="410.70" y="47.50" width="5.167" height="206.00"/><rect x="415.87" y="35.30" width="5.167" height="218.20"/><rect x="421.03" y="40.30" width="5.167" height="213.20"/><rect x="426.20" y="61.30" width="5.167" height="192.20"/><rect x="431.37" y="77.40" width="5.167" height="176.10"/><rect x="436.54" y="102.80" width="5.167" height="150.70"/><rect x="441.70" y="123.70" width="5.167" height="129.80"/><rect x="446.87" y="141.20" width="5.167" height="112.30"/><rect x="452.04" y="159.60" width="5.167" height="93.90"/><rect x="457.20" y="172.10" width="5.167" height="81.40"/><rect x="462.37" y="186.30" width="5.167" height="67.20"/><rect x="467.54" y="195.60" width="5.167" height="57.90"/><rect x="472.70" y="206.40" width="5.167" height="47.10"/><rect x="477.87" y="213.20" width="5.167" height="40.30"/><rect x="483.04" y="219.00" width="5.167" height="34.50"/><rect x="488.21" y="225.80" width="5.167" height="27.70"/><rect x="493.37" y="230.30" width="5.167" height="23.20"/><rect x="498.54" y="232.00" width="5.167" height="21.50"/><rect x="503.71" y="237.40" width="5.167" height="16.10"/><rect x="508.87" y="240.80" width="5.167" height="12.70"/><rect x="514.04" y="242.80" width="5.167" height="10.70"/><rect x="519.21" y="245.30" width="5.167" height="8.20"/><rect x="524.38" y="246.40" width="5.167" height="7.10"/><rect x="529.54" y="247.60" width="5.167" height="5.90"/><rect x="534.71" y="248.30" width="5.167" height="5.20"/><rect x="539.88" y="248.30" width="5.167" height="5.20"/><rect x="545.04" y="249.40" width="5.167" height="4.10"/><rect x="550.21" y="249.60" width="5.167" height="3.90"/><rect x="555.38" y="250.70" width="5.167" height="2.80"/><rect x="560.54" y="251.00" width="5.167" height="2.50"/><rect x="565.71" y="251.30" width="5.167" height="2.20"/><rect x="570.88" y="251.40" width="5.167" height="2.10"/><rect x="576.04" y="252.00" width="5.167" height="1.50"/><rect x="581.21" y="252.20" width="5.167" height="1.30"/><rect x="586.38" y="252.40" width="5.167" height="1.10"/><rect x="591.55" y="252.60" width="5.167" height="0.90"/><rect x="596.71" y="252.80" width="5.167" height="0.70"/><rect x="601.88" y="252.90" width="5.167" height="0.60"/><rect x="607.05" y="253.00" width="5.167" height="0.50"/><rect x="612.21" y="253.10" width="5.167" height="0.40"/><rect x="617.38" y="253.20" width="5.167" height="0.30"/><rect x="622.55" y="253.20" width="5.167" height="0.30"/><rect x="627.71" y="253.30" width="5.167" height="0.20"/><rect x="632.88" y="253.30" width="5.167" height="0.20"/><rect x="638.05" y="253.40" width="5.167" height="0.10"/><rect x="643.22" y="253.40" width="5.167" height="0.10"/><rect x="648.38" y="253.40" width="5.167" height="0.10"/><rect x="653.55" y="253.45" width="5.167" height="0.05"/><rect x="658.72" y="253.45" width="5.167" height="0.05"/><rect x="663.88" y="253.50" width="5.167" height="0.00"/><rect x="669.05" y="253.50" width="5.167" height="0.00"/><rect x="674.22" y="253.50" width="5.167" height="0.00"/><rect x="679.38" y="253.50" width="5.167" height="0.00"/></g>
<path d="M392.5,253.5 L395.50,253.50 L395.75,253.45 L396.00,253.29 L396.25,253.03 L396.50,252.68 L396.75,252.22 L397.00,251.68 L397.25,251.05 L397.50,250.33 L397.75,249.53 L398.00,248.65 L398.25,247.70 L398.50,246.67 L398.75,245.57 L399.00,244.40 L399.25,242.72 L399.50,240.18 L399.75,236.90 L400.00,233.05 L400.25,228.74 L400.50,223.87 L400.75,216.80 L401.00,208.65 L401.25,201.24 L401.50,195.49 L401.75,190.37 L402.00,185.64 L402.25,181.11 L402.50,176.83 L402.75,172.82 L403.00,168.97 L403.25,165.21 L403.50,161.43 L403.75,157.55 L404.00,153.47 L404.25,149.10 L404.50,144.33 L404.75,139.27 L405.00,134.06 L405.25,128.86 L405.50,123.82 L405.75,119.08 L406.00,114.49 L406.25,109.97 L406.50,105.57 L406.75,101.34 L407.00,97.33 L407.25,93.57 L407.50,90.08 L407.75,86.80 L408.00,83.66 L408.25,80.61 L408.50,77.56 L408.75,74.51 L409.00,71.50 L409.25,68.60 L409.50,65.87 L409.75,63.37 L410.00,61.13 L410.25,59.04 L410.50,57.05 L410.75,55.15 L411.00,53.34 L411.25,51.61 L411.50,49.96 L411.75,48.37 L412.00,46.86 L412.25,45.40 L412.50,44.00 L412.75,42.62 L413.00,41.26 L413.25,39.91 L413.50,38.61 L413.75,37.35 L414.00,36.15 L414.25,35.03 L414.50,34.00 L414.75,33.07 L415.00,32.26 L415.25,31.57 L415.50,30.92 L415.75,30.28 L416.00,29.66 L416.25,29.06 L416.50,28.51 L416.75,28.01 L417.00,27.57 L417.25,27.21 L417.50,26.93 L417.75,26.76 L418.00,26.70 L418.25,26.73 L418.50,26.83 L418.75,26.99 L419.00,27.20 L419.25,27.46 L419.50,27.76 L419.75,28.09 L420.00,28.44 L421.00,30.00 L422.00,32.19 L423.00,35.24 L424.00,38.63 L425.00,41.95 L426.00,45.37 L427.00,48.99 L428.00,52.80 L429.00,56.83 L430.00,61.28 L431.00,65.96 L432.00,70.84 L433.00,75.80 L434.00,80.66 L435.00,85.48 L436.00,90.19 L437.00,94.63 L438.00,98.85 L439.00,103.00 L440.00,107.19 L441.00,111.30 L442.00,115.22 L443.00,118.97 L444.00,122.65 L445.00,126.40 L446.00,130.30 L447.00,134.27 L448.00,138.15 L449.00,141.79 L450.00,145.26 L451.00,148.62 L452.00,151.91 L453.00,155.21 L454.00,158.53 L455.00,161.80 L456.00,164.98 L457.00,167.99 L458.00,170.79 L459.00,173.39 L460.00,175.85 L461.00,178.24 L462.00,180.60 L463.00,183.00 L464.00,185.45 L465.00,187.90 L466.00,190.30 L467.00,192.63 L468.00,194.98 L469.00,197.28 L470.00,199.49 L471.00,201.56 L472.00,203.42 L473.00,205.15 L474.00,206.77 L475.00,208.30 L476.00,209.77 L477.00,211.20 L478.00,212.60 L479.00,213.96 L480.00,215.28 L481.00,216.55 L482.00,217.78 L483.00,218.96 L484.00,220.09 L485.00,221.19 L486.00,222.25 L487.00,223.28 L488.00,224.28 L489.00,225.23 L490.00,226.15 L491.00,227.02 L492.00,227.86 L493.00,228.68 L494.00,229.47 L495.00,230.24 L496.00,230.98 L497.00,231.71 L498.00,232.41 L499.00,233.10 L500.00,233.77 L501.00,234.42 L502.00,235.06 L503.00,235.68 L504.00,236.29 L505.00,236.87 L506.00,237.45 L507.00,238.00 L508.00,238.54 L509.00,239.07 L510.00,239.58 L511.00,240.08 L512.00,240.58 L513.00,241.06 L514.00,241.52 L515.00,241.97 L516.00,242.41 L517.00,242.83 L518.00,243.22 L519.00,243.60 L520.00,243.98 L521.00,244.35 L522.00,244.70 L523.00,245.05 L524.00,245.37 L525.00,245.69 L526.00,245.98 L527.00,246.25 L528.00,246.50 L529.00,246.73 L530.00,246.95 L531.00,247.15 L532.00,247.34 L533.00,247.53 L534.00,247.70 L535.00,247.88 L536.00,248.04 L537.00,248.21 L538.00,248.37 L539.00,248.53 L540.00,248.70 L541.00,248.86 L542.00,249.02 L543.00,249.17 L544.00,249.33 L545.00,249.47 L546.00,249.62 L547.00,249.75 L548.00,249.88 L549.00,250.00 L550.00,250.11 L551.00,250.22 L552.00,250.32 L553.00,250.42 L554.00,250.52 L555.00,250.61 L556.00,250.70 L557.00,250.79 L558.00,250.87 L559.00,250.96 L560.00,251.04 L561.00,251.13 L562.00,251.21 L563.00,251.29 L564.00,251.37 L565.00,251.45 L566.00,251.53 L567.00,251.60 L568.00,251.68 L569.00,251.75 L570.00,251.82 L571.00,251.89 L572.00,251.95 L573.00,252.02 L574.00,252.08 L575.00,252.15 L576.00,252.21 L577.00,252.27 L578.00,252.33 L579.00,252.38 L580.00,252.43 L581.00,252.47 L582.00,252.51 L583.00,252.55 L584.00,252.58 L585.00,252.61 L586.00,252.64 L587.00,252.67 L588.00,252.70 L589.00,252.72 L590.00,252.75 L591.00,252.77 L592.00,252.80 L593.00,252.82 L594.00,252.84 L595.00,252.86 L596.00,252.88 L597.00,252.90 L598.00,252.91 L599.00,252.93 L600.00,252.95 L601.00,252.97 L602.00,252.98 L603.00,253.00 L604.00,253.02 L605.00,253.05 L606.00,253.07 L607.00,253.09 L608.00,253.12 L609.00,253.14 L610.00,253.16 L611.00,253.18 L612.00,253.19 L613.00,253.20 L614.00,253.21 L615.00,253.23 L616.00,253.24 L617.00,253.25 L618.00,253.26 L619.00,253.27 L620.00,253.28 L621.00,253.28 L622.00,253.29 L623.00,253.30 L624.00,253.31 L625.00,253.32 L626.00,253.32 L627.00,253.33 L628.00,253.34 L629.00,253.34 L630.00,253.35 L631.00,253.36 L632.00,253.36 L633.00,253.37 L634.00,253.37 L635.00,253.38 L636.00,253.38 L637.00,253.39 L638.00,253.39 L639.00,253.40 L640.00,253.40 L641.00,253.40 L642.00,253.41 L643.00,253.41 L644.00,253.42 L645.00,253.42 L646.00,253.42 L647.00,253.43 L648.00,253.43 L649.00,253.43 L650.00,253.44 L651.00,253.44 L652.00,253.44 L653.00,253.45 L654.00,253.45 L655.00,253.45 L656.00,253.46 L657.00,253.46 L658.00,253.46 L659.00,253.47 L660.00,253.47 L661.00,253.47 L662.00,253.48 L663.00,253.48 L664.00,253.48 L665.00,253.48 L666.00,253.48 L667.00,253.49 L668.00,253.49 L669.00,253.49 L670.00,253.49 L671.00,253.49 L672.00,253.50 L673.00,253.50 L674.00,253.50 L675.00,253.50 L676.00,253.50 L677.00,253.50 L678.00,253.50 L679.00,253.50" fill="none" stroke="#ff0000" stroke-width="2" stroke-dasharray="5.35 5.35" stroke-dashoffset="3.5" clip-path="url(#cr)"/>
<text transform="translate(388.90,257.00) scale(0.88,1)" text-anchor="end" font-family="Liberation Sans" font-weight="bold" font-size="10.2" fill="#262626" stroke="#262626" stroke-width="0.25">0</text>
<text transform="translate(388.90,217.00) scale(0.88,1)" text-anchor="end" font-family="Liberation Sans" font-weight="bold" font-size="10.2" fill="#262626" stroke="#262626" stroke-width="0.25">0.1</text>
<text transform="translate(388.90,177.00) scale(0.88,1)" text-anchor="end" font-family="Liberation Sans" font-weight="bold" font-size="10.2" fill="#262626" stroke="#262626" stroke-width="0.25">0.2</text>
<text transform="translate(388.90,137.00) scale(0.88,1)" text-anchor="end" font-family="Liberation Sans" font-weight="bold" font-size="10.2" fill="#262626" stroke="#262626" stroke-width="0.25">0.3</text>
<text transform="translate(388.90,97.00) scale(0.88,1)" text-anchor="end" font-family="Liberation Sans" font-weight="bold" font-size="10.2" fill="#262626" stroke="#262626" stroke-width="0.25">0.4</text>
<text transform="translate(388.90,57.00) scale(0.88,1)" text-anchor="end" font-family="Liberation Sans" font-weight="bold" font-size="10.2" fill="#262626" stroke="#262626" stroke-width="0.25">0.5</text>
<text transform="translate(388.90,17.00) scale(0.88,1)" text-anchor="end" font-family="Liberation Sans" font-weight="bold" font-size="10.2" fill="#262626" stroke="#262626" stroke-width="0.25">0.6</text>
<text transform="translate(392.50,265.90) scale(0.88,1)" text-anchor="middle" font-family="Liberation Sans" font-weight="bold" font-size="10.2" fill="#262626" stroke="#262626" stroke-width="0.25">0</text>
<text transform="translate(449.90,265.90) scale(0.88,1)" text-anchor="middle" font-family="Liberation Sans" font-weight="bold" font-size="10.2" fill="#262626" stroke="#262626" stroke-width="0.25">2</text>
<text transform="translate(507.30,265.90) scale(0.88,1)" text-anchor="middle" font-family="Liberation Sans" font-weight="bold" font-size="10.2" fill="#262626" stroke="#262626" stroke-width="0.25">4</text>
<text transform="translate(564.70,265.90) scale(0.88,1)" text-anchor="middle" font-family="Liberation Sans" font-weight="bold" font-size="10.2" fill="#262626" stroke="#262626" stroke-width="0.25">6</text>
<text transform="translate(622.10,265.90) scale(0.88,1)" text-anchor="middle" font-family="Liberation Sans" font-weight="bold" font-size="10.2" fill="#262626" stroke="#262626" stroke-width="0.25">8</text>
<text transform="translate(679.50,265.90) scale(0.88,1)" text-anchor="middle" font-family="Liberation Sans" font-weight="bold" font-size="10.2" fill="#262626" stroke="#262626" stroke-width="0.25">10</text>
<text x="451.9" y="8.4" font-family="Liberation Serif" font-size="11" textLength="114" lengthAdjust="spacingAndGlyphs" fill="#222">First passage distribution</text>
<text font-family="Liberation Serif" fill="#1a1a1a" stroke="#1a1a1a" stroke-width="0.10" ><tspan x="570.60" y="8.40" font-size="11.00" font-style="italic">g</tspan><tspan x="574.50" y="9.70" font-size="8.60" font-style="italic">X</tspan><tspan x="582.00" y="8.40" font-size="11.00">(</tspan><tspan x="585.20" y="8.40" font-size="11.00" font-style="italic">t</tspan><tspan x="590.20" y="8.40" font-size="11.00">|</tspan><tspan x="592.60" y="8.40" font-size="11.00" font-style="italic">x</tspan><tspan x="597.30" y="10.00" font-size="7.60">0</tspan><tspan x="602.20" y="8.40" font-size="11.00">,</tspan><tspan x="605.90" y="8.40" font-size="11.00" font-style="italic">t</tspan><tspan x="609.30" y="10.00" font-size="7.60">0</tspan><tspan x="614.40" y="8.40" font-size="11.00">)</tspan></text>
<text x="512.3" y="277.4" font-family="Liberation Serif" font-size="10.3" textLength="47.3" lengthAdjust="spacingAndGlyphs" fill="#1a1a1a" stroke="#1a1a1a" stroke-width="0.08">Exit time</text>
<text transform="translate(372.3,219.6) rotate(-90)" font-family="Liberation Serif" font-size="11" textLength="121.6" lengthAdjust="spacingAndGlyphs" fill="#222">pdf of first passage time</text>
<g transform="translate(372.3,95) rotate(-90)"><text font-family="Liberation Serif" fill="#1a1a1a" stroke="#1a1a1a" stroke-width="0.10" ><tspan x="0.00" y="0.00" font-size="11.41" font-style="italic">g</tspan><tspan x="4.05" y="1.35" font-size="8.92" font-style="italic">X</tspan><tspan x="11.83" y="0.00" font-size="11.41">(</tspan><tspan x="15.15" y="0.00" font-size="11.41" font-style="italic">t</tspan><tspan x="20.33" y="0.00" font-size="11.41">|</tspan><tspan x="22.82" y="0.00" font-size="11.41" font-style="italic">x</tspan><tspan x="27.70" y="1.66" font-size="7.88">0</tspan><tspan x="32.78" y="0.00" font-size="11.41">,</tspan><tspan x="36.62" y="0.00" font-size="11.41" font-style="italic">t</tspan><tspan x="40.15" y="1.66" font-size="7.88">0</tspan><tspan x="45.44" y="0.00" font-size="11.41">)</tspan></text></g>
<text x="445.2" y="45.3" font-family="Liberation Serif" font-weight="bold" font-size="14.5" textLength="17.2" lengthAdjust="spacingAndGlyphs" fill="#000">(b)</text>
<rect x="585.0" y="18.5" width="90.0" height="22.0" fill="#fff" stroke="#1a1a1a" stroke-width="1.2"/>
<rect x="587.4" y="21.4" width="20.3" height="7.1" fill="#64a7d6" stroke="#333" stroke-width="0.8"/>
<path d="M587.7,34.8 H592.9 M598.1,34.8 H603.8" stroke="#f03030" stroke-width="1.6"/>
<text x="610" y="27.2" font-family="Liberation Serif" font-weight="bold" font-size="8.2" textLength="60.5" lengthAdjust="spacingAndGlyphs" fill="#1a1a1a">FPT histogram</text>
<text font-family="Liberation Serif" fill="#555" stroke="#555" stroke-width="0.08" ><tspan x="609.30" y="36.80" font-size="8.79" font-style="italic">g</tspan><tspan x="612.42" y="37.84" font-size="6.87" font-style="italic">X</tspan><tspan x="618.41" y="36.80" font-size="8.79">(</tspan><tspan x="620.96" y="36.80" font-size="8.79" font-style="italic">t</tspan><tspan x="624.96" y="36.80" font-size="8.79">|</tspan><tspan x="626.87" y="36.80" font-size="8.79" font-style="italic">x</tspan><tspan x="630.63" y="38.08" font-size="6.07">0</tspan><tspan x="634.54" y="36.80" font-size="8.79">,</tspan><tspan x="637.50" y="36.80" font-size="8.79" font-style="italic">t</tspan><tspan x="640.21" y="38.08" font-size="6.07">0</tspan><tspan x="644.29" y="36.80" font-size="8.79">)</tspan></text>
</svg></body></html>
